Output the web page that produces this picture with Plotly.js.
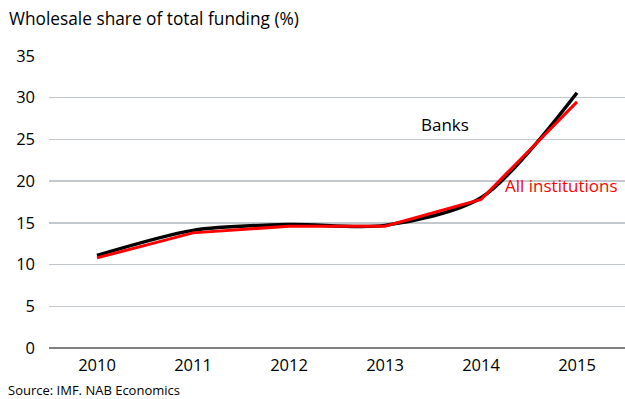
<!DOCTYPE html>
<html>
<head>
<meta charset="utf-8">
<script src="https://cdn.plot.ly/plotly-3.0.1.min.js"></script>
<style>html,body{margin:0;padding:0;background:#fff;}#chart{width:625px;height:399px;}</style>
</head>
<body>
<div id="chart"></div>
<script>
const years = ["2010", "2011", "2012", "2013", "2014", "2015"];
const banks = [11.1, 14.1, 14.8, 14.7, 18.0, 30.6];
const allInstitutions = [10.8, 13.8, 14.6, 14.6, 17.8, 29.5];
const yTicks = [0, 5, 10, 15, 20, 25, 30, 35];
const chartTitle = "Wholesale share of total funding (%)";
const sourceText = "Source: IMF. NAB Economics";

const font = "Open Sans, sans-serif";

const traces = [
  {x: years, y: banks, type: "scatter", mode: "lines", name: "Banks",
   line: {color: "#000000", width: 3.5, shape: "spline", smoothing: 0.8}},
  {x: years, y: allInstitutions, type: "scatter", mode: "lines", name: "All institutions",
   line: {color: "#ff0000", width: 3}}
];

const layout = {
  width: 625, height: 399,
  margin: {l: 49, r: 0, t: 56, b: 51},
  paper_bgcolor: "#ffffff", plot_bgcolor: "#ffffff",
  showlegend: false,
  font: {family: font, size: 15, color: "#000"},
  xaxis: {type: "category", range: [-0.5, 5.5], showgrid: false, zeroline: false,
          showline: false, ticks: "", tickfont: {family: font, size: 16.5, color: "#000"}, ticklabelstandoff: 5},
  yaxis: {range: [0, 35], tickvals: yTicks, showgrid: true, gridcolor: "#c3c8cd", gridwidth: 1.5,
          zeroline: true, zerolinecolor: "#808080", zerolinewidth: 2, showline: false, ticks: "",
          tickfont: {family: font, size: 16.5, color: "#000"}, ticklabelstandoff: 13, fixedrange: true},
  annotations: [
    {xref: "paper", yref: "paper", x: -0.073, y: 1.13, xanchor: "left", yanchor: "middle",
     text: chartTitle, showarrow: false, font: {family: font, size: 17.3, color: "#000"}},
    {xref: "paper", yref: "paper", x: -0.074, y: -0.143, xanchor: "left", yanchor: "middle",
     text: sourceText, showarrow: false, font: {family: font, size: 13, color: "#000"}},
    {x: 3.625, y: 26.8, text: "Banks", showarrow: false, font: {family: font, size: 17, color: "#000"}},
    {x: 4.84, y: 19.5, text: "All institutions", showarrow: false, font: {family: font, size: 17, color: "#ff0000"}}
  ]
};

Plotly.newPlot("chart", traces, layout, {displayModeBar: false, staticPlot: true});
</script>
</body>
</html>
